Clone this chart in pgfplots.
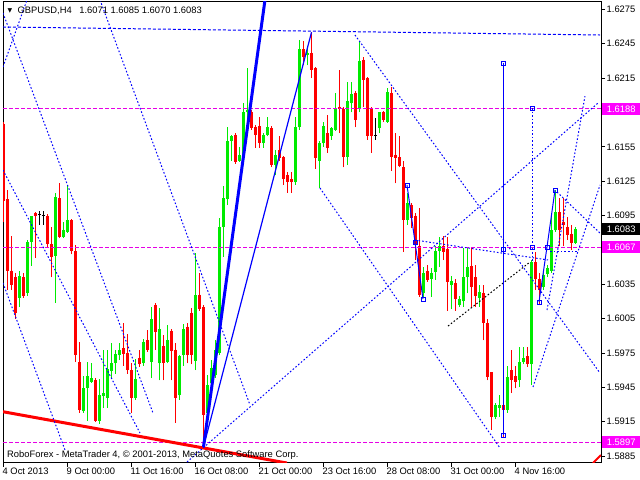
\documentclass[border=0pt]{standalone}
\usepackage{pgfplots}
\pgfplotsset{compat=1.18}
\usepackage{pgfplotstable}
\usepackage{fontspec}
\setmainfont{Liberation Sans}
\newfontfamily\symfont{DejaVu Sans}
\definecolor{bullc}{RGB}{0,235,0}
\definecolor{bearc}{RGB}{255,0,0}
\definecolor{mtblue}{RGB}{0,0,255}
\definecolor{mtmag}{RGB}{230,0,230}
\definecolor{boxmag}{RGB}{255,0,255}
\newcommand\fs{\fontsize{9.4}{11}\selectfont}

\pgfplotstableread{
i O H L C
4 1.6023 1.6047 1.6015 1.6042
6 1.6027 1.6074 1.6025 1.6072
7 1.6072 1.6095 1.6051 1.6095
13 1.6060 1.6115 1.6019 1.6111
15 1.6076 1.6089 1.6075 1.6082
16 1.6081 1.6121 1.6080 1.6091
20 1.5924 1.5955 1.5923 1.5944
21 1.5944 1.5967 1.5916 1.5955
22 1.5950 1.5966 1.5949 1.5953
24 1.5916 1.5952 1.5913 1.5938
25 1.5937 1.5978 1.5927 1.5940
26 1.5936 1.5978 1.5927 1.5961
27 1.5959 1.5984 1.5952 1.5966
28 1.5966 1.5978 1.5957 1.5974
29 1.5973 1.5984 1.5969 1.5978
33 1.5936 1.5970 1.5934 1.5952
35 1.5966 1.5987 1.5964 1.5985
37 1.5967 1.6015 1.5953 1.6005
39 1.5966 1.6014 1.5951 1.5996
41 1.5967 1.5999 1.5966 1.5986
44 1.5938 1.5973 1.5934 1.5972
45 1.5973 1.6000 1.5964 1.5996
48 1.5968 1.6062 1.5960 1.6026
51 1.5923 1.5956 1.5918 1.5947
52 1.5949 1.5969 1.5947 1.5962
53 1.5956 1.5986 1.5953 1.5978
54 1.5975 1.6093 1.5973 1.6085
55 1.6085 1.6121 1.6059 1.6110
56 1.6109 1.6172 1.6104 1.6160
57 1.6160 1.6165 1.6143 1.6164
59 1.6143 1.6155 1.6142 1.6148
60 1.6145 1.6193 1.6143 1.6185
61 1.6185 1.6224 1.6171 1.6187
65 1.6158 1.6167 1.6154 1.6165
66 1.6165 1.6181 1.6164 1.6172
68 1.6139 1.6152 1.6130 1.6148
73 1.6124 1.6181 1.6122 1.6172
74 1.6172 1.6248 1.6170 1.6240
76 1.6235 1.6240 1.6226 1.6237
79 1.6143 1.6160 1.6119 1.6158
80 1.6158 1.6177 1.6155 1.6173
82 1.6164 1.6172 1.6161 1.6171
83 1.6170 1.6202 1.6169 1.6189
86 1.6146 1.6212 1.6139 1.6195
87 1.6193 1.6212 1.6185 1.6201
89 1.6188 1.6247 1.6185 1.6230
94 1.6171 1.6185 1.6167 1.6185
96 1.6177 1.6206 1.6176 1.6203
101 1.6091 1.6115 1.6087 1.6106
105 1.6027 1.6050 1.6023 1.6045
107 1.6040 1.6049 1.6024 1.6045
108 1.6046 1.6068 1.6039 1.6064
109 1.6064 1.6076 1.6050 1.6068
112 1.6034 1.6042 1.6013 1.6038
114 1.6017 1.6025 1.6015 1.6022
115 1.6020 1.6067 1.6015 1.6041
116 1.6041 1.6067 1.6027 1.6050
119 1.6023 1.6034 1.6015 1.6028
123 1.5919 1.5931 1.5917 1.5930
124 1.5927 1.5938 1.5919 1.5930
126 1.5925 1.5964 1.5923 1.5954
129 1.5951 1.5980 1.5945 1.5967
130 1.5967 1.5980 1.5965 1.5971
132 1.5965 1.6056 1.5947 1.6054
135 1.6033 1.6045 1.6030 1.6043
136 1.6044 1.6052 1.6041 1.6049
137 1.6047 1.6095 1.6045 1.6082
138 1.6082 1.6117 1.6081 1.6098
143 1.6071 1.6085 1.6070 1.6083
}\bull

\pgfplotstableread{
i O H L C
0 1.6175 1.6177 1.6089 1.6108
1 1.6109 1.6117 1.6030 1.6047
2 1.6047 1.6077 1.6030 1.6034
3 1.6041 1.6045 1.6005 1.6010
5 1.6041 1.6045 1.6023 1.6025
8 1.6097 1.6098 1.6058 1.6095
11 1.6095 1.6096 1.6067 1.6070
12 1.6070 1.6085 1.6041 1.6059
14 1.6110 1.6123 1.6075 1.6076
17 1.6091 1.6092 1.6061 1.6064
18 1.6064 1.6069 1.5967 1.5973
19 1.5967 1.5985 1.5923 1.5925
23 1.5951 1.5953 1.5915 1.5916
30 1.5979 1.6001 1.5964 1.5974
31 1.5975 1.5992 1.5957 1.5960
32 1.5960 1.5966 1.5923 1.5936
34 1.5971 1.5978 1.5963 1.5965
36 1.5986 1.5995 1.5976 1.5978
38 1.6017 1.6019 1.5978 1.5993
40 1.5981 1.5991 1.5951 1.5966
42 1.5994 1.5996 1.5951 1.5977
43 1.5978 1.5984 1.5914 1.5936
46 1.5998 1.6001 1.5966 1.5973
47 1.6010 1.6014 1.5965 1.5973
49 1.6026 1.6045 1.6012 1.6013
50 1.6015 1.6017 1.5893 1.5921
58 1.6165 1.6167 1.6140 1.6142
62 1.6185 1.6187 1.6170 1.6171
63 1.6172 1.6174 1.6154 1.6165
64 1.6173 1.6181 1.6154 1.6158
67 1.6171 1.6173 1.6137 1.6139
69 1.6152 1.6164 1.6143 1.6145
70 1.6146 1.6147 1.6122 1.6127
71 1.6130 1.6133 1.6115 1.6124
72 1.6127 1.6133 1.6115 1.6124
75 1.6240 1.6247 1.6226 1.6233
77 1.6237 1.6255 1.6215 1.6222
78 1.6224 1.6225 1.6136 1.6145
81 1.6167 1.6183 1.6150 1.6154
84 1.6190 1.6222 1.6167 1.6188
85 1.6188 1.6190 1.6137 1.6146
88 1.6202 1.6204 1.6172 1.6178
90 1.6231 1.6233 1.6190 1.6213
91 1.6215 1.6216 1.6161 1.6164
92 1.6189 1.6190 1.6150 1.6164
95 1.6185 1.6186 1.6177 1.6178
97 1.6202 1.6207 1.6134 1.6146
98 1.6148 1.6167 1.6123 1.6145
99 1.6146 1.6164 1.6137 1.6138
100 1.6137 1.6143 1.6063 1.6091
102 1.6104 1.6106 1.6084 1.6093
103 1.6095 1.6097 1.6056 1.6069
104 1.6068 1.6102 1.6024 1.6026
106 1.6047 1.6052 1.6037 1.6039
110 1.6068 1.6077 1.6056 1.6063
111 1.6066 1.6076 1.6012 1.6037
113 1.6036 1.6040 1.6012 1.6022
117 1.6051 1.6067 1.6015 1.6033
118 1.6041 1.6052 1.6015 1.6025
120 1.6027 1.6034 1.5986 1.6001
121 1.6001 1.6005 1.5951 1.5954
122 1.5958 1.5958 1.5908 1.5919
125 1.5930 1.5944 1.5902 1.5925
127 1.5960 1.5978 1.5940 1.5951
128 1.5955 1.5964 1.5944 1.5950
131 1.5972 1.5980 1.5963 1.5965
133 1.6054 1.6063 1.6030 1.6040
134 1.6040 1.6045 1.6017 1.6030
139 1.6098 1.6110 1.6068 1.6082
140 1.6089 1.6110 1.6068 1.6087
141 1.6085 1.6094 1.6074 1.6078
142 1.6079 1.6087 1.6065 1.6071
}\bear

\pgfplotstableread{
i O H L C
9 1.6096 1.6099 1.6087 1.6096
10 1.6095 1.6099 1.6087 1.6095
93 1.6165 1.6180 1.6161 1.6165
}\doji

\begin{document}
\begin{tikzpicture}
\useasboundingbox (0,0) rectangle (640bp,480bp);
\begin{axis}[
  at={(3bp,17bp)}, anchor=south west,
  scale only axis, width=598bp, height=461bp,
  xmin=-0.125, xmax=149.375, ymin=1.587894, ymax=1.628142,
  axis line style={line width=1bp, black},
  tick align=outside, major tick length=4bp,
  tick style={black, line width=0.8bp},
  xtick={0,16,32,48,64,80,96,112,128},
  xticklabels={4 Oct 2013, 9 Oct 00:00, 11 Oct 16:00, 16 Oct 08:00, 21 Oct 00:00, 23 Oct 16:00, 28 Oct 08:00, 31 Oct 00:00, 4 Nov 16:00},
  xtick pos=left, xticklabel pos=left,
  ytick={1.6275,1.6245,1.6215,1.6155,1.6125,1.6095,1.6035,1.6005,1.5975,1.5945,1.5915,1.5885},
  yticklabels={1.6275,1.6245,1.6215,1.6155,1.6125,1.6095,1.6035,1.6005,1.5975,1.5945,1.5915,1.5885},
  ytick pos=right, yticklabel pos=right,
  xticklabel style={anchor=north west, font=\fs, inner sep=0pt, xshift=-1bp, yshift=-1bp},
  yticklabel style={anchor=west, font=\fs, inner sep=0pt, xshift=1.5bp},
  clip=true,
]
% candles
\addplot[bearc, line width=1bp, no markers, quiver={u=0, v=\thisrow{H}-\thisrow{L}}] table[x=i, y=L]{\bear};
\addplot[bearc, line width=3bp, no markers, quiver={u=0, v=\thisrow{C}-\thisrow{O}}] table[x=i, y=O]{\bear};
\addplot[bullc, line width=1bp, no markers, quiver={u=0, v=\thisrow{H}-\thisrow{L}}] table[x=i, y=L]{\bull};
\addplot[bullc, line width=3bp, no markers, quiver={u=0, v=\thisrow{C}-\thisrow{O}}] table[x=i, y=O]{\bull};
\addplot[black, line width=1bp, no markers, quiver={u=0, v=\thisrow{H}-\thisrow{L}}] table[x=i, y=L]{\doji};
\addplot[black, line width=1bp, no markers, quiver={u=0.8, v=0}] table[x expr=\thisrow{i}-0.4, y=O]{\doji};

% magenta levels
\addplot[mtmag, line width=1bp, dash pattern=on 4bp off 2bp] coordinates {(-0.125,1.6188) (149.375,1.6188)};
\addplot[mtmag, line width=1bp, dash pattern=on 4bp off 2bp] coordinates {(-0.125,1.6067) (149.375,1.6067)};
\addplot[mtmag, line width=1bp, dash pattern=on 4bp off 2bp] coordinates {(-0.125,1.5897) (149.375,1.5897)};

% red trend line
\addplot[bearc, line width=3bp] coordinates {(-0.125,1.59237) (70.875,1.58789)};
\addplot[bearc, line width=2bp] coordinates {(147.375,1.58789) (149.375,1.58859)};

% blue dotted lines
\pgfplotsset{dotl/.style={mtblue, line width=1bp, dash pattern=on 1.6bp off 2bp}}
\addplot[mtblue, line width=1bp, dash pattern=on 3bp off 2bp] coordinates {(-0.125,1.62596) (149.125,1.62526)};
\addplot[dotl] coordinates {(-0.125,1.62247) (5.875,1.62832)};
\addplot[dotl] coordinates {(-0.125,1.62718) (37.375,1.59226)};
\addplot[dotl] coordinates {(24.125,1.62832) (61.625,1.59296)};
\addplot[dotl] coordinates {(-0.125,1.61347) (34.125,1.59051)};
\addplot[dotl] coordinates {(-0.125,1.60361) (15.375,1.58903)};
\addplot[dotl] coordinates {(45.875,1.58798) (148.625,1.61932)};
\addplot[dotl] coordinates {(87.875,1.62526) (149.125,1.59575)};
\addplot[dotl] coordinates {(79.125,1.61190) (124.125,1.58920)};
\addplot[dotl] coordinates {(132.375,1.59453) (149.125,1.61216)};
\addplot[dotl] coordinates {(135.875,1.60125) (145.375,1.61992)};
\addplot[dotl] coordinates {(132.125,1.61889) (132.125,1.60544)};
\addplot[dotl] coordinates {(138.375,1.61155) (149.125,1.60797)};
\addplot[dotl] coordinates {(136.625,1.60640) (143.625,1.60640)};
\addplot[dotl] coordinates {(102.875,1.60736) (136.125,1.60562)};
\addplot[black, line width=1bp, dash pattern=on 1.6bp off 2bp] coordinates {(111.125,1.59985) (131.625,1.60544)};

% solid blue lines from the 16 Oct low
\addplot[mtblue, line width=3bp] coordinates {(50,1.5893) (66,1.62991)};
\addplot[mtblue, line width=1.2bp] coordinates {(50,1.5893) (77,1.6255)};
\addplot[mtblue, line width=1bp] coordinates {(124.875,1.62282) (124.875,1.59034)};
\addplot[mtblue, line width=1bp] coordinates {(100.875,1.61216) (102.875,1.60719) (104.875,1.60221)};
\addplot[mtblue, line width=1bp] coordinates {(133.875,1.60195) (135.875,1.60675) (137.875,1.61173)};
\addplot[mtblue, only marks, mark=square, mark size=2bp, mark options={line width=0.8bp, fill=white}] coordinates {
(124.875,1.62282) (124.875,1.60658) (124.875,1.59034) (132.125,1.61889) (132.125,1.60675)
(133.875,1.60195) (135.875,1.60675) (137.875,1.61173) (100.875,1.61216) (102.875,1.60719) (104.875,1.60221)};
\end{axis}
% header and footer text
\node[anchor=center, inner sep=0pt, font=\symfont\fontsize{6}{7}\selectfont] at (10bp,469.5bp) {▼};
\node[anchor=west, inner sep=0pt, font=\fs] at (17.5bp,469.5bp) {GBPUSD,H4\hspace{5bp} 1.6071 1.6085 1.6070 1.6083};
\node[anchor=west, inner sep=0pt, font=\fs] at (7bp,25bp) {RoboForex - MetaTrader 4, © 2001-2013, MetaQuotes Software Corp.};
% highlighted price boxes
\node[anchor=west, fill=boxmag, text=white, font=\fs, inner sep=0pt, minimum width=38bp, minimum height=12bp] at (602bp,371bp) {1.6188};
\node[anchor=west, fill=black, text=white, font=\fs, inner sep=0pt, minimum width=38bp, minimum height=12bp] at (602bp,251bp) {1.6083};
\node[anchor=west, fill=boxmag, text=white, font=\fs, inner sep=0pt, minimum width=38bp, minimum height=12bp] at (602bp,233bp) {1.6067};
\node[anchor=west, fill=boxmag, text=white, font=\fs, inner sep=0pt, minimum width=38bp, minimum height=12bp] at (602bp,38bp) {1.5897};
\end{tikzpicture}
\end{document}
